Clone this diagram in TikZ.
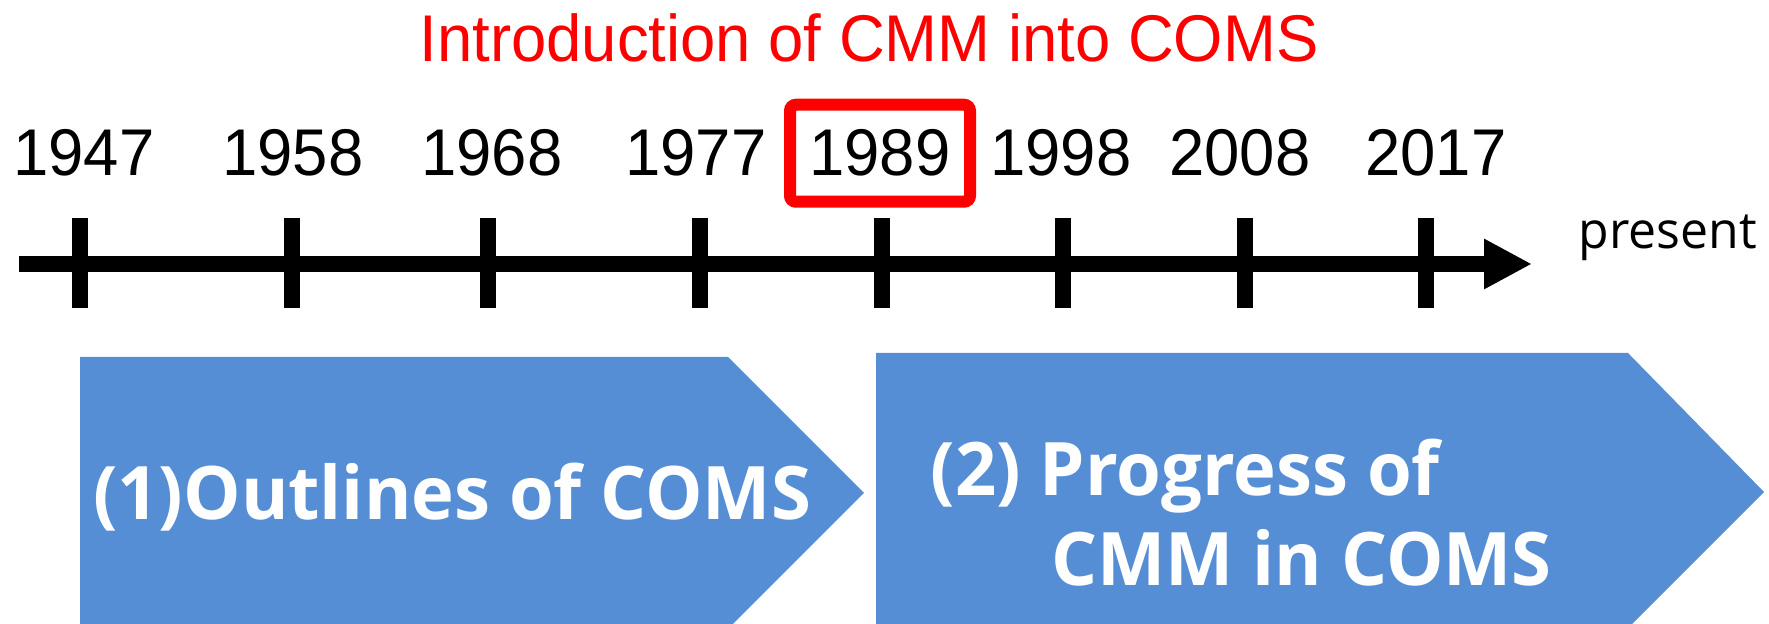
\documentclass[tikz,border=0pt]{standalone}
\usepackage{fontspec}
\usepackage{xcolor}
\usepackage{tikz}
\usetikzlibrary{arrows.meta}
\newfontfamily\yearfont{Liberation Sans}[FakeStretch=0.96]
\newfontfamily\boxfont{Open Sans}[FakeStretch=0.98]
\definecolor{ink}{HTML}{000000}
\definecolor{hilite}{HTML}{FF0000}
\definecolor{phase}{HTML}{558ED5}
\tikzset{
  axis/.style={draw=ink, line width=1.6mm, -{Triangle[length=4.8mm,width=4.7mm]}},
  tick/.style={draw=ink, line width=1.6mm},
  year/.style={text=ink, font=\yearfont\fontsize{18.8}{20}\selectfont, anchor=base, inner sep=0pt},
  ttl/.style={text=hilite, font=\yearfont\fontsize{18.8}{20}\selectfont, anchor=base, inner sep=0pt},
  pick/.style={draw=hilite, line width=1.2mm, rounded corners=0.6mm, minimum width=1.8cm, minimum height=0.97cm},
  phasebox/.style={fill=phase},
  phasetxt/.style={text=white, font=\boxfont\bfseries\fontsize{21}{24}\selectfont, anchor=base, inner sep=0pt},
  lab/.style={text=ink, font=\boxfont\fontsize{14.5}{16}\selectfont, anchor=base, inner sep=0pt},
}

\begin{document}
\begin{tikzpicture}
  \useasboundingbox (0,0) rectangle (17.69,6.24);
  \clip (0,0) rectangle (17.69,6.24);

  % time axis
  \coordinate (start) at (0.19,3.60);
  \coordinate (now) at (15.32,3.60);
  \draw[axis] (start) -- (now);
  \node[lab] (present) at (16.68,3.75) {present};

  % ticks and years (tick x / label x / year)
  \foreach \x/\lx/\yr in {0.80/0.84/1947, 2.92/2.93/1958, 4.88/4.92/1968, 7.00/6.96/1977,
                          8.82/8.80/1989, 10.63/10.61/1998, 12.45/12.40/2008, 14.26/14.36/2017} {
    \draw[tick] (\x,3.16) -- (\x,4.06);
    \node[year] (y\yr) at (\lx,4.48) {\yr};
  }
  \node[pick] (pickbox) at (y1989) {};
  \node[ttl] (intro) at (8.69,5.62) {Introduction of CMM into COMS};

  % the two phases
  \fill[phasebox] (0.80,2.67) -- (7.28,2.67) -- (8.64,1.31) -- (7.28,-0.05) -- (0.80,-0.05) -- cycle;
  \fill[phasebox] (8.76,2.71) -- (16.28,2.71) -- (17.64,1.32) -- (16.25,-0.07) -- (8.76,-0.07) -- cycle;

  \node[phasetxt] (outl) at (4.52,1.04) {(1)Outlines of COMS};
  \node[phasetxt, anchor=base west] (prog) at (9.30,1.28) {(2) Progress of};
  \node[phasetxt, anchor=base west] (cmm) at (10.51,0.38) {CMM in COMS};
\end{tikzpicture}
\end{document}
